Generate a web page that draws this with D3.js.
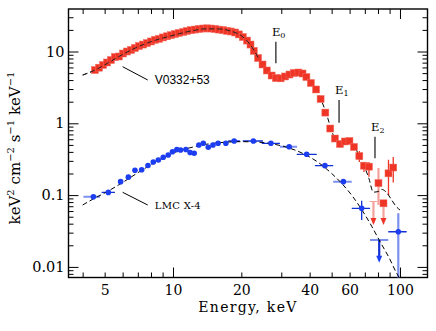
<!DOCTYPE html>
<html>
<head>
<meta charset="utf-8">
<script src="https://cdn.jsdelivr.net/npm/d3@7"></script>
<style>
  body { margin: 0; background: #fff; }
  svg { display: block; }
</style>
</head>
<body>
<div id="chart"></div>
<script>
// V0332+53 spectrum (keV, keV^2 cm^-2 s^-1 keV^-1)
const redE = [4.53, 4.72, 4.92, 5.12, 5.33, 5.55, 5.78, 6.02, 6.27, 6.53, 6.80, 7.08, 7.38, 7.68, 8.00, 8.33, 8.68, 9.03, 9.41, 9.80,
  10.2, 10.6, 11.1, 11.5, 12.0, 12.5, 13.0, 13.6, 14.1, 14.7, 15.3, 15.9, 16.6, 17.3, 18.0, 18.8, 19.5, 20.3, 21.2, 21.95,
  22.7, 23.7, 24.8, 25.9, 27.2, 28.4, 29.8, 31.2, 32.6, 34.1, 35.7, 37.2, 38.7, 40.5, 42.7, 44.7, 46.9, 49.3, 51.7, 54.4,
  57.2, 59.9, 62.7, 66.2, 69.4, 73.0, 80.4, 84.6, 89.0, 93.4];
const redF = [5.52, 5.95, 6.49, 7.03, 7.61, 8.38, 8.52, 9.38, 10.0, 10.5, 11.2, 11.9, 12.5, 13.1, 13.8, 14.5, 15.0, 15.7, 16.3, 16.9,
  17.5, 18.1, 18.7, 19.3, 19.8, 20.2, 20.6, 20.9, 21.0, 20.9, 20.6, 20.2, 19.9, 19.4, 19.0, 18.4, 17.3, 15.9, 14.2, 12.5,
  10.2, 8.12, 6.59, 5.44, 4.63, 4.27, 4.23, 4.49, 4.78, 5.02, 5.10, 4.94, 4.41, 3.64, 2.96, 2.18, 1.41, 0.846, 0.614, 0.515,
  0.558, 0.567, 0.468, 0.350, 0.257, 0.249, 0.147, 0.0769, 0.201, 0.242];
// vertical error bars
const redBarE = [62.7, 66.2, 69.4, 73.0, 89.0, 93.4];
const redBarLo = [0.43, 0.29, 0.21, 0.18, 0.10, 0.15];
const redBarHi = [0.52, 0.41, 0.29, 0.29, 0.31, 0.34];
const redFaintBarE = [80.4];
const redFaintBarLo = [0.073];
const redFaintBarHi = [0.238];
// upper limits
const redLimE = [76.4, 84.6];
const redLimTop = [0.0815, 0.0769];
const redLimBottom = [0.0396, 0.0396];

// LMC X-4 spectrum
const blueE = [4.46, 5.19, 5.88, 6.36, 6.80, 7.28, 7.76, 8.19, 8.62, 9.06, 9.53, 9.95, 10.4, 10.8, 11.4, 11.9, 12.4, 13.0,
  13.6, 14.3, 15.0, 15.8, 17.1, 18.6, 22.6, 27.0, 32.5, 38.8, 46.7, 56.3, 67.8, 98.3];
const blueF = [0.0950, 0.109, 0.154, 0.178, 0.2215, 0.226, 0.258, 0.289, 0.308, 0.336, 0.362, 0.402, 0.432, 0.425, 0.432, 0.392,
  0.382, 0.499, 0.527, 0.463, 0.499, 0.527, 0.527, 0.567, 0.567, 0.527, 0.472, 0.370, 0.257, 0.154, 0.0655, 0.0309];
// horizontal (energy) bars
const blueBarE = [5.19, 18.6, 22.6, 27.0, 38.8, 46.7, 67.8, 98.3];
const blueBarF = [0.109, 0.567, 0.567, 0.527, 0.370, 0.257, 0.0655, 0.0309];
const blueBarLo = [4.85, 17.5, 20.3, 24.6, 35.1, 42.2, 61.3, 88.8];
const blueBarHi = [5.55, 19.7, 24.9, 29.6, 43.0, 50.8, 73.8, 107];
const blueFaintE = [4.46, 32.5, 56.3, 81.0];
const blueFaintF = [0.0950, 0.472, 0.154, 0.0237];
const blueFaintLo = [4.03, 29.6, 50.8, 73.8];
const blueFaintHi = [4.77, 35.2, 61.3, 88.8];
const blueYBarE = [67.8];
const blueYBarLo = [0.045];
const blueYBarHi = [0.0836];
const blueFaintYBarE = [98.3];
const blueFaintYBarLo = [0.005];
const blueFaintYBarHi = [0.0558];
const blueLimE = [81.0];
const blueLimTop = [0.0237];
const blueLimBottom = [0.0118];

// model curves
const redModelE = [4.0, 4.5, 5, 6, 7, 8, 10, 12, 14, 16, 18, 20, 22, 24, 26, 28, 30, 32, 35, 38, 40, 42, 45, 48, 50, 52, 54,
  57, 60, 63, 66, 69, 73, 76.3, 80, 83, 87, 92, 96, 100];
const redModelF = [4.7, 5.45, 6.5, 9.1, 11.6, 13.7, 16.8, 19.3, 20.7, 20.6, 19.2, 16.6, 12.2, 7.7, 5.4, 4.4, 4.2, 4.6, 5.05,
  4.75, 3.95, 3.2, 2.1, 1.2, 0.78, 0.6, 0.54, 0.56, 0.56, 0.47, 0.36, 0.27, 0.17, 0.11, 0.112, 0.12, 0.11, 0.085, 0.07, 0.062];
const blueModelE = [4.0, 4.5, 5, 6, 7, 8, 9, 10, 12, 14, 17, 20, 24, 28, 32, 38, 44, 50, 56, 62, 68, 75, 82, 90, 96, 100];
const blueModelF = [0.0728, 0.090, 0.107, 0.150, 0.205, 0.265, 0.325, 0.385, 0.46, 0.51, 0.545, 0.555, 0.545, 0.51, 0.46,
  0.37, 0.28, 0.20, 0.14, 0.095, 0.062, 0.037, 0.022, 0.013, 0.0085, 0.0068];

// cyclotron lines
const lineNames = ["0", "1", "2"];
const lineE = [28.4, 53.9, 77.6];
const lineTop = [13.7, 2.11, 0.651];
const lineBottom = [6.85, 1.02, 0.326];

const xLabelTicks = [5, 10, 20, 40, 60, 100];
const yLabelTicks = [0.01, 0.1, 1, 10];

const W = 436, H = 331;
const margin = { top: 9, right: 8.5, bottom: 53.5, left: 68.5 };
const x = d3.scaleLog().domain([3.465, 132.2]).range([margin.left, W - margin.right]);
const y = d3.scaleLog().domain([0.00712, 39.08]).range([H - margin.bottom, margin.top]);

const serif = "'DejaVu Serif', serif";
const red = "#ee3526", redPale = "#f3a29c";
const blue = "#1d3ef0", blueDark = "#1130d6", bluePale = "#7c90ee";

const svg = d3.select("#chart").append("svg").attr("width", W).attr("height", H);

svg.append("clipPath").attr("id", "plot")
  .append("rect")
  .attr("x", margin.left).attr("y", margin.top)
  .attr("width", W - margin.left - margin.right)
  .attr("height", H - margin.top - margin.bottom);

// TICKS (inward on all four sides)
const xMinor = [4, 5, 6, 7, 8, 9, 20, 30, 40, 50, 60, 70, 80, 90];
const xMajor = [10, 100];
const yMajor = [0.01, 0.1, 1, 10];
const yMinor = [];
[0.001, 0.01, 0.1, 1, 10].forEach(d => {
  for (let k = 2; k <= 9; k++) {
    const v = d * k;
    if (v > y.domain()[0] && v < y.domain()[1]) yMinor.push(v);
  }
});

function ticks(axisFn, scale, values, len, transform) {
  const g = svg.append("g").attr("transform", transform)
    .call(axisFn(scale).tickValues(values).tickSize(-len).tickSizeOuter(0).tickFormat(""));
  g.select(".domain").remove();
  g.selectAll("line").attr("stroke", "#000").attr("stroke-width", 1);
}
const atBottom = `translate(0,${H - margin.bottom})`, atTop = `translate(0,${margin.top})`;
const atLeft = `translate(${margin.left},0)`, atRight = `translate(${W - margin.right},0)`;
ticks(d3.axisBottom, x, xMinor, 5, atBottom);
ticks(d3.axisBottom, x, xMajor, 10, atBottom);
ticks(d3.axisTop, x, xMinor, 5, atTop);
ticks(d3.axisTop, x, xMajor, 10, atTop);
ticks(d3.axisLeft, y, yMinor, 5, atLeft);
ticks(d3.axisLeft, y, yMajor, 10, atLeft);
ticks(d3.axisRight, y, yMinor, 5, atRight);
ticks(d3.axisRight, y, yMajor, 10, atRight);

// tick labels
const xl = svg.append("g").attr("transform", atBottom)
  .call(d3.axisBottom(x).tickValues(xLabelTicks).tickSize(0).tickPadding(8).tickFormat(d => String(d)));
xl.select(".domain").remove();
xl.attr("font-family", serif).attr("font-size", 14);
xl.selectAll("text").attr("fill", "#000");

const yl = svg.append("g").attr("transform", atLeft)
  .call(d3.axisLeft(y).tickValues(yLabelTicks).tickSize(0).tickPadding(4).tickFormat(d => String(d)));
yl.select(".domain").remove();
yl.attr("font-family", serif).attr("font-size", 14.5);
yl.selectAll("text").attr("fill", "#000");

// frame
svg.append("rect")
  .attr("x", margin.left).attr("y", margin.top)
  .attr("width", W - margin.left - margin.right)
  .attr("height", H - margin.top - margin.bottom)
  .attr("fill", "none").attr("stroke", "#000").attr("stroke-width", 1.4);

const plot = svg.append("g").attr("clip-path", "url(#plot)");

// error bars
function vbars(E, lo, hi, color, w) {
  plot.append("g").selectAll("line").data(E).join("line")
    .attr("x1", d => x(d)).attr("x2", d => x(d))
    .attr("y1", (d, i) => y(lo[i])).attr("y2", (d, i) => y(hi[i]))
    .attr("stroke", color).attr("stroke-width", w);
}
function hbars(F, lo, hi, color, w) {
  plot.append("g").selectAll("line").data(F).join("line")
    .attr("y1", d => y(d)).attr("y2", d => y(d))
    .attr("x1", (d, i) => x(lo[i])).attr("x2", (d, i) => x(hi[i]))
    .attr("stroke", color).attr("stroke-width", w);
}
function limits(E, topF, botF, color, head) {
  const g = plot.append("g");
  g.selectAll("line.bar").data(E).join("line").attr("class", "bar")
    .attr("x1", d => x(d)).attr("x2", d => x(d))
    .attr("y1", (d, i) => y(topF[i])).attr("y2", (d, i) => y(botF[i]) - 4)
    .attr("stroke", color).attr("stroke-width", 2.2);
  g.selectAll("path").data(E).join("path")
    .attr("d", (d, i) => {
      const cx = x(d), cy = y(botF[i]);
      return `M${cx - 3},${cy - 6}L${cx + 3},${cy - 6}L${cx},${cy + 1}Z`;
    })
    .attr("fill", head);
}

vbars(redFaintBarE, redFaintBarLo, redFaintBarHi, redPale, 2.2);
vbars(redBarE, redBarLo, redBarHi, red, 1.3);
limits(redLimE, redLimTop, redLimBottom, redPale, red);
plot.append("g").selectAll("line").data(redLimE.slice(0, 1)).join("line")
  .attr("x1", d => x(d) - 4).attr("x2", d => x(d) + 4)
  .attr("y1", (d, i) => y(redLimTop[i])).attr("y2", (d, i) => y(redLimTop[i]))
  .attr("stroke", redPale).attr("stroke-width", 1.2);

hbars(blueFaintF, blueFaintLo, blueFaintHi, bluePale, 2);
hbars(blueBarF, blueBarLo, blueBarHi, blueDark, 1.3);
vbars(blueFaintYBarE, blueFaintYBarLo, blueFaintYBarHi, bluePale, 2.2);
vbars(blueYBarE, blueYBarLo, blueYBarHi, blueDark, 1.3);
limits(blueLimE, blueLimTop, blueLimBottom, blueDark, blue);

// model curves
const line = d3.line().x(d => x(d[0])).y(d => y(d[1])).curve(d3.curveMonotoneX);
[[redModelE, redModelF], [blueModelE, blueModelF]].forEach(([E, F]) => {
  plot.append("path")
    .attr("d", line(E.map((e, i) => [e, F[i]])))
    .attr("fill", "none").attr("stroke", "#000").attr("stroke-width", 1)
    .attr("stroke-dasharray", "5,3");
});

// markers
plot.append("g").selectAll("rect").data(redE).join("rect")
  .attr("x", d => x(d) - 3.5).attr("y", (d, i) => y(redF[i]) - 3.5)
  .attr("width", 7).attr("height", 7)
  .attr("fill", red).attr("stroke", "#f26a5e").attr("stroke-width", 0.5);
plot.append("g").selectAll("circle").data(blueE).join("circle")
  .attr("cx", d => x(d)).attr("cy", (d, i) => y(blueF[i]))
  .attr("r", 2.8).attr("fill", blue);

// redraw the dashed model on top of the dense red band
plot.append("path")
  .attr("d", line(redModelE.map((e, i) => [e, redModelF[i]]).filter(d => d[0] < 26)))
  .attr("fill", "none").attr("stroke", "#222").attr("stroke-width", 1)
  .attr("stroke-dasharray", "5,3");

// cyclotron line markers
lineE.forEach((e, i) => {
  svg.append("line")
    .attr("x1", x(e)).attr("x2", x(e))
    .attr("y1", y(lineTop[i])).attr("y2", y(lineBottom[i]))
    .attr("stroke", "#000").attr("stroke-width", 1.1);
  const t = svg.append("text")
    .attr("x", x(e) - 4).attr("y", y(lineTop[i]) - 6)
    .attr("font-family", serif).attr("font-size", 11.5).attr("fill", "#000");
  t.append("tspan").text("E");
  t.append("tspan").attr("font-size", 8).attr("dy", 2).text(lineNames[i]);
});

// source labels with leader lines
const labels = [
  { name: "V0332+53", from: [6.0, 6.14], to: [7.74, 4.01], font: "'Liberation Sans', Arial, sans-serif", size: 12, ls: 0 },
  { name: "LMC X-4", from: [6.0, 0.1094], to: [7.74, 0.0728], font: serif, size: 10, ls: 0.3 }
];
labels.forEach(l => {
  svg.append("line")
    .attr("x1", x(l.from[0])).attr("y1", y(l.from[1]))
    .attr("x2", x(l.to[0])).attr("y2", y(l.to[1]))
    .attr("stroke", "#000").attr("stroke-width", 1);
  svg.append("text")
    .attr("x", x(l.to[0]) + 7).attr("y", y(l.to[1]) + 4)
    .attr("font-family", l.font).attr("font-size", l.size)
    .attr("letter-spacing", l.ls)
    .attr("fill", "#000").text(l.name);
});

// axis titles
svg.append("text")
  .attr("x", (margin.left + W - margin.right) / 2).attr("y", 311.5)
  .attr("text-anchor", "middle")
  .attr("font-family", serif).attr("font-size", 14).attr("letter-spacing", 1.3)
  .attr("fill", "#000").text("Energy, keV");

const yt = svg.append("text")
  .attr("transform", "translate(20,148) rotate(-90)")
  .attr("text-anchor", "middle")
  .attr("font-family", serif).attr("font-size", 15).attr("fill", "#000");
[["keV", ""], ["2", "sup"], [" cm", ""], ["\u22122", "sup"], [" s", ""], ["\u22121", "sup"], [" keV", ""], ["\u22121", "sup"]]
  .forEach(([s, k], i, arr) => {
    const ts = yt.append("tspan").text(s);
    if (k === "sup") ts.attr("font-size", 10).attr("dy", -6);
    else if (i > 0 && arr[i - 1][1] === "sup") ts.attr("dy", 6);
  });
</script>
</body>
</html>
